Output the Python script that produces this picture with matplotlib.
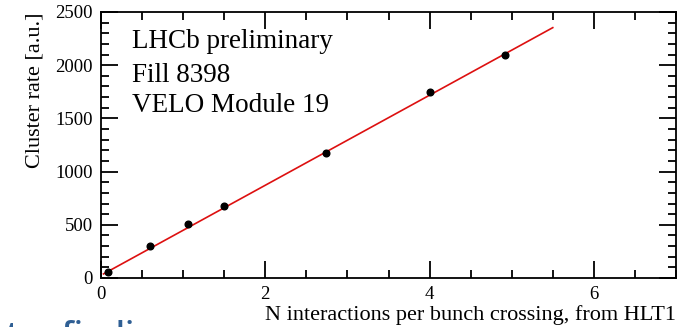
import matplotlib
matplotlib.use("Agg")
import matplotlib.pyplot as plt
from matplotlib.ticker import MultipleLocator

# Measured cluster rate vs. pile-up
n_interactions = [0.09, 0.60, 1.065, 1.50, 2.735, 4.01, 4.92]
cluster_rate = [54, 304, 507, 680, 1175, 1751, 2093]

# Linear fit endpoints
fit_x = [0.03, 5.50]
fit_y = [38, 2353]

x_ticks = [0, 2, 4, 6]
y_ticks = [0, 500, 1000, 1500, 2000, 2500]
info_lines = ["LHCb preliminary", "Fill 8398", "VELO Module 19"]

serif = ["Liberation Serif", "DejaVu Serif"]

fig = plt.figure(figsize=(6.85, 3.27), dpi=100)
ax = fig.add_axes([101 / 685, 49 / 327, 575 / 685, 266 / 327])

ax.plot(fit_x, fit_y, color="#dd1010", lw=1.2, zorder=2)
ax.plot(n_interactions, cluster_rate, "o", color="black", ms=4.8, zorder=3)

ax.set_xlim(0, 7)
ax.set_ylim(0, 2500)
ax.set_xticks(x_ticks)
ax.set_yticks(y_ticks)
ax.xaxis.set_minor_locator(MultipleLocator(0.5))
ax.yaxis.set_minor_locator(MultipleLocator(100))

ax.tick_params(which="both", direction="in", top=True, right=True, width=1.3)
ax.tick_params(which="major", length=12, pad=6)
ax.tick_params(which="minor", length=6)
for lbl in ax.get_xticklabels() + ax.get_yticklabels():
    lbl.set_family(serif)
    lbl.set_fontsize(13.5)
for sp in ax.spines.values():
    sp.set_linewidth(1.3)

ax.set_xlabel("N interactions per bunch crossing, from HLT1", loc="right",
              family=serif, fontsize=16, labelpad=1)
ax.set_ylabel("Cluster rate [a.u.]", loc="top", family=serif, fontsize=16,
              labelpad=8)

y_pos = [0.865, 0.737, 0.624]
for txt, yp in zip(info_lines, y_pos):
    ax.text(0.054, yp, txt, transform=ax.transAxes, family=serif,
            fontsize=19.5, va="baseline", ha="left")

# Slide heading running below the plot (only its top edge falls on the canvas)
fig.text(-0.0905, -0.055, "Cluster finding", family=["Open Sans", "DejaVu Sans"],
         fontsize=24, fontweight="semibold", color="#2f5f94", va="baseline",
         ha="left")

fig.savefig("out.png", dpi=100)
